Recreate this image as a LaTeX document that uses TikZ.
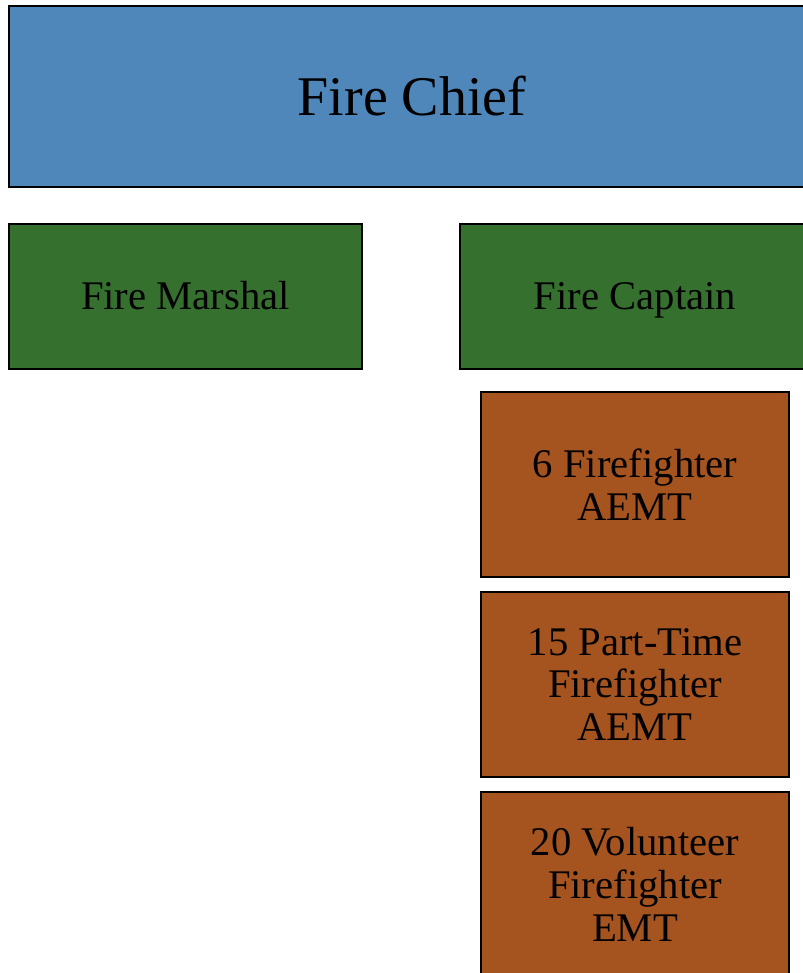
\documentclass[tikz,border=0pt]{standalone}
\usepackage{fontspec}
\setmainfont{Liberation Serif}
\definecolor{chiefblue}{HTML}{4F87BA}
\definecolor{officergreen}{HTML}{35702E}
\definecolor{crewbrown}{HTML}{A5531F}
\begin{document}
\begin{tikzpicture}[x=0.75pt,y=-0.75pt,
  box/.style={draw=black, line width=1.5pt, rectangle, inner sep=0pt, outer sep=0pt, text=black},
  chiefbox/.style={box, fill=chiefblue, minimum width=604.5pt, minimum height=135.75pt, font=\fontsize{42}{46}\selectfont},
  officerbox/.style={box, fill=officergreen, minimum height=108.75pt, text height=20pt, text depth=0.5pt, font=\fontsize{30.5}{32}\selectfont},
  crewbox/.style={box, align=center, fill=crewbrown, minimum width=231pt, minimum height=138.75pt, font=\fontsize{30.5}{32}\selectfont}]
  \useasboundingbox (0,0) rectangle (802,973);
  % top of the chain of command
  \node[chiefbox] (chief) at (412,96.5) {Fire Chief};
  % officers
  \node[officerbox, minimum width=264.75pt] (marshal) at (185.5,296.5) {Fire Marshal};
  \node[officerbox, minimum width=262.5pt] (captain) at (635,296.5) {Fire Captain};
  % crews under the captain
  \node[crewbox] (fulltime) at (635,484.5) {6 Firefighter\\AEMT};
  \node[crewbox] (parttime) at (635,684.5) {15 Part-Time\\Firefighter\\AEMT};
  \node[crewbox] (volunteer) at (635,884.5) {20 Volunteer\\Firefighter\\EMT};
\end{tikzpicture}
\end{document}
